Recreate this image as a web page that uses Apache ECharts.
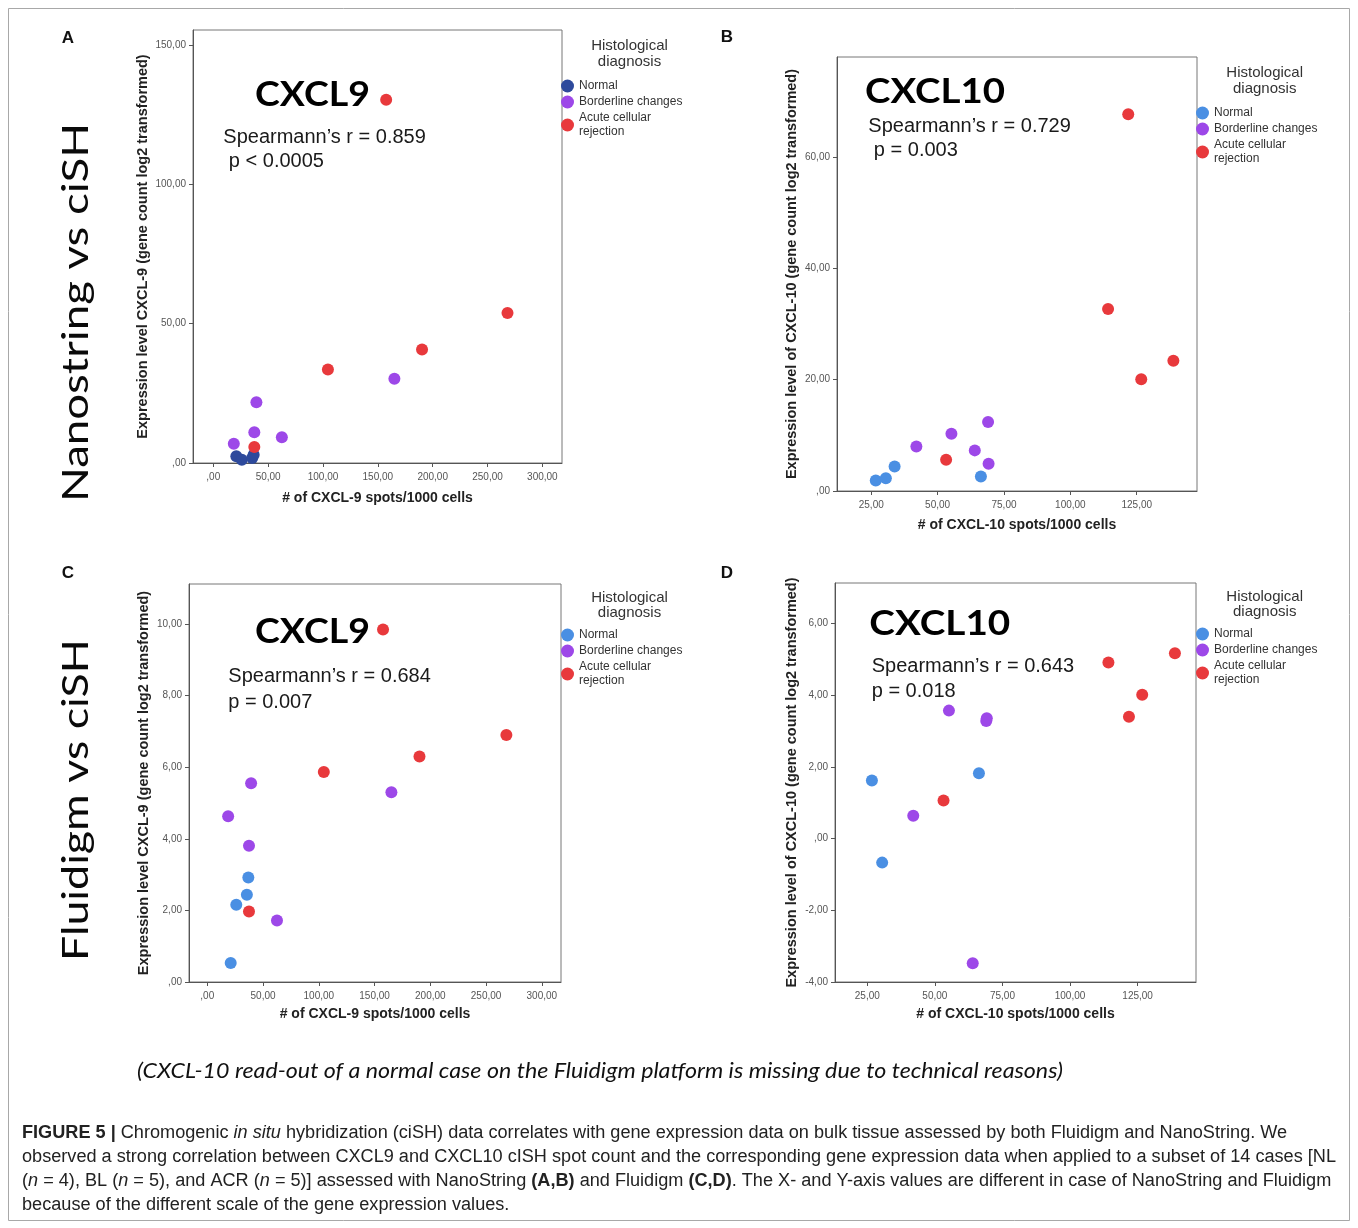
<!DOCTYPE html>
<html><head><meta charset="utf-8">
<script src="https://cdn.jsdelivr.net/npm/echarts@6/dist/echarts.min.js"></script>
<style>html,body{margin:0;padding:0;background:#fff}#c{width:1358px;height:1228px}</style>
</head><body><div id="c"></div>
<script>
// ===================== DATA =====================
const groups = ['Normal', 'Borderline changes', 'Acute cellular rejection'];

// ciSH CXCL-9 spots / 1000 cells (x of panels A and C)
const cxcl9SpotsNormal     = [21.0, 26.0, 35.5, 36.8];
const cxcl9SpotsBorderline = [165.1, 39.3, 37.4, 62.5, 18.7];
const cxcl9SpotsAcr        = [157.6, 268.2, 190.3, 104.5, 37.4];
// NanoString CXCL-9 expression (y of panel A)
const nanoCxcl9Normal      = [2.4, 1.2, 1.8, 3.0];
const nanoCxcl9Borderline  = [30.2, 21.8, 11.0, 9.2, 6.9];
const nanoCxcl9Acr         = [130.3, 53.8, 40.7, 33.5, 5.7];
// Fluidigm CXCL-9 expression (y of panel C)
const fluiCxcl9Normal      = [0.53, 2.16, 2.44, 2.92];
const fluiCxcl9Borderline  = [5.30, 5.55, 3.81, 1.72, 4.63];
const fluiCxcl9Acr         = [9.85, 6.90, 6.30, 5.87, 1.97];

// ciSH CXCL-10 spots / 1000 cells (x of panels B and D)
const cxcl10SpotsNormal     = [26.7, 30.5, 33.8, 66.3];
const cxcl10SpotsBorderline = [69.0, 55.2, 42.0, 64.0, 69.2];
const cxcl10SpotsAcr        = [121.8, 114.2, 138.8, 126.7, 53.2];
// NanoString CXCL-10 expression (y of panel B)
const nanoCxcl10Normal      = [1.9, 2.3, 4.4, 2.6];
const nanoCxcl10Borderline  = [12.4, 10.3, 8.0, 7.3, 4.9];
const nanoCxcl10Acr         = [67.7, 32.7, 23.4, 20.1, 5.6];
// Fluidigm CXCL-10 expression (y of panel D); one normal case missing
const fluiCxcl10Normal      = [1.62, -0.67, null, 1.82];
const fluiCxcl10Borderline  = [3.28, 3.57, 0.64, -3.48, 3.36];
const fluiCxcl10Acr         = [3.40, 4.91, 5.17, 4.01, 1.06];

// tick values and labels
const cxcl9SpotTicks   = [0, 50, 100, 150, 200, 250, 300];
const cxcl9SpotLabels  = [',00', '50,00', '100,00', '150,00', '200,00', '250,00', '300,00'];
const cxcl10SpotTicks  = [25, 50, 75, 100, 125];
const cxcl10SpotLabels = ['25,00', '50,00', '75,00', '100,00', '125,00'];
const nanoCxcl9Ticks   = [0, 50, 100, 150];
const nanoCxcl9Labels  = [',00', '50,00', '100,00', '150,00'];
const nanoCxcl10Ticks  = [0, 20, 40, 60];
const nanoCxcl10Labels = [',00', '20,00', '40,00', '60,00'];
const fluiCxcl9Ticks   = [0, 2, 4, 6, 8, 10];
const fluiCxcl9Labels  = [',00', '2,00', '4,00', '6,00', '8,00', '10,00'];
const fluiCxcl10Ticks  = [-4, -2, 0, 2, 4, 6];
const fluiCxcl10Labels = ['-4,00', '-2,00', ',00', '2,00', '4,00', '6,00'];

// statistics text
const statsA = ["Spearmann\u2019s r = 0.859", " p < 0.0005"];
const statsB = ["Spearmann\u2019s r = 0.729", " p = 0.003"];
const statsC = ["Spearmann\u2019s r = 0.684", "p = 0.007"];
const statsD = ["Spearmann\u2019s r = 0.643", "p = 0.018"];

// ===================== LAYOUT / STYLE =====================
const COL = { nd: '#2e4a9c', nl: '#4a8fe3', bl: '#9d48e8', acr: '#e8393c' };
const SANS = '"Liberation Sans", Arial, sans-serif';

function pairs(xs, ys) {
  const out = [];
  for (let i = 0; i < xs.length; i++) if (ys[i] !== null && ys[i] !== undefined) out.push([xs[i], ys[i]]);
  return out;
}
function lab(ticks, labels, v) {
  for (let i = 0; i < ticks.length; i++) if (Math.abs(ticks[i] - v) < 1e-6) return labels[i];
  return '';
}

const panels = [
  { key: 'A', grid: { left: 193, top: 30, width: 369, height: 433 }, x: [-18.5, 317.9], y: [0, 155.3],
    xT: cxcl9SpotTicks, xL: cxcl9SpotLabels, yT: nanoCxcl9Ticks, yL: nanoCxcl9Labels,
    xName: '# of CXCL-9 spots/1000 cells', yName: 'Expression level CXCL-9 (gene count log2 transformed)',
    xGap: 28, yGap: 43,
    ser: [[cxcl9SpotsNormal, nanoCxcl9Normal, COL.nd], [cxcl9SpotsBorderline, nanoCxcl9Borderline, COL.bl], [cxcl9SpotsAcr, nanoCxcl9Acr, COL.acr]],
    legend: { left: 561, top: 79 }, ltitle: { x: 629.5, y: 53.5, lh: 16 },
    title: { text: 'CXCL9', x: 255, y: 95.3, w: 115 }, stats: statsA, sx: 223.3, sy: [137.8, 161.5] },
  { key: 'B', grid: { left: 837, top: 57, width: 360, height: 434 }, x: [12.1, 147.7], y: [0, 78],
    xT: cxcl10SpotTicks, xL: cxcl10SpotLabels, yT: nanoCxcl10Ticks, yL: nanoCxcl10Labels,
    xName: '# of CXCL-10 spots/1000 cells', yName: 'Expression level of CXCL-10 (gene count log2 transformed)',
    xGap: 27.5, yGap: 38,
    ser: [[cxcl10SpotsNormal, nanoCxcl10Normal, COL.nl], [cxcl10SpotsBorderline, nanoCxcl10Borderline, COL.bl], [cxcl10SpotsAcr, nanoCxcl10Acr, COL.acr]],
    legend: { left: 1196, top: 106 }, ltitle: { x: 1264.7, y: 80.5, lh: 16 },
    title: { text: 'CXCL10', x: 865, y: 91.7, w: 140 }, stats: statsB, sx: 868.3, sy: [126, 150] },
  { key: 'C', grid: { left: 189, top: 584, width: 372, height: 398 }, x: [-16.4, 317.2], y: [0, 11.12],
    xT: cxcl9SpotTicks, xL: cxcl9SpotLabels, yT: fluiCxcl9Ticks, yL: fluiCxcl9Labels,
    xName: '# of CXCL-9 spots/1000 cells', yName: 'Expression level CXCL-9 (gene count log2 transformed)',
    xGap: 25.5, yGap: 38,
    ser: [[cxcl9SpotsNormal, fluiCxcl9Normal, COL.nl], [cxcl9SpotsBorderline, fluiCxcl9Borderline, COL.bl], [cxcl9SpotsAcr, fluiCxcl9Acr, COL.acr]],
    legend: { left: 561, top: 628 }, ltitle: { x: 629.5, y: 605.5, lh: 15 },
    title: { text: 'CXCL9', x: 255, y: 631.7, w: 115 }, stats: statsC, sx: 228.3, sy: [676, 702] },
  { key: 'D', grid: { left: 835, top: 583, width: 361, height: 399 }, x: [13.05, 146.6], y: [-4, 7.13],
    xT: cxcl10SpotTicks, xL: cxcl10SpotLabels, yT: fluiCxcl10Ticks, yL: fluiCxcl10Labels,
    xName: '# of CXCL-10 spots/1000 cells', yName: 'Expression level of CXCL-10 (gene count log2 transformed)',
    xGap: 25.5, yGap: 36,
    ser: [[cxcl10SpotsNormal, fluiCxcl10Normal, COL.nl], [cxcl10SpotsBorderline, fluiCxcl10Borderline, COL.bl], [cxcl10SpotsAcr, fluiCxcl10Acr, COL.acr]],
    legend: { left: 1196, top: 627 }, ltitle: { x: 1264.7, y: 604.5, lh: 15 },
    title: { text: 'CXCL10', x: 869.3, y: 624, w: 141 }, stats: statsD, sx: 871.7, sy: [666, 691] }
];

// text measurement for fitting
const mctx = document.createElement('canvas').getContext('2d');
function tw(text, font) { mctx.font = font; return mctx.measureText(text).width; }

const graphics = [];
graphics.push({ type: 'rect', silent: true, z: 0, shape: { x: 8.5, y: 8.5, width: 1341, height: 1212 },
  style: { fill: 'none', stroke: '#a8a8a8', lineWidth: 1 } });

// panel letters
[['A', 68, 38], ['B', 727, 37], ['C', 68, 573], ['D', 727, 573]].forEach(([t, x, y]) => {
  graphics.push({ type: 'text', silent: true, x, y, style: { text: t, font: 'bold 17px ' + SANS, fill: '#111', textAlign: 'center', textVerticalAlign: 'middle' } });
});

// side labels
[['Nanostring vs ciSH', 76, 312.5, 379], ['Fluidigm vs ciSH', 76, 800, 322]].forEach(([t, x, y, L]) => {
  const f = '36px Lato, "Open Sans", sans-serif';
  graphics.push({ type: 'text', silent: true, x, y, rotation: Math.PI / 2, scaleX: L / tw(t, f),
    style: { text: t, font: f, fill: '#0a0a0a', textAlign: 'center', textVerticalAlign: 'middle' } });
});

panels.forEach(p => {
  const tf = 'bold 34px Lato, "Open Sans", sans-serif';
  graphics.push({ type: 'text', silent: true, x: p.title.x, y: p.title.y, scaleX: p.title.w / tw(p.title.text, tf),
    style: { text: p.title.text, font: tf, fill: '#000', textAlign: 'left', textVerticalAlign: 'middle' } });
  p.stats.forEach((s, i) => {
    graphics.push({ type: 'text', silent: true, x: p.sx, y: p.sy[i],
      style: { text: s, font: '20px ' + SANS, fill: '#1a1a1a', textAlign: 'left', textVerticalAlign: 'middle' } });
  });
  graphics.push({ type: 'text', silent: true, x: p.ltitle.x, y: p.ltitle.y,
    style: { text: 'Histological\ndiagnosis', font: '15px ' + SANS, lineHeight: p.ltitle.lh, fill: '#333', textAlign: 'center', textVerticalAlign: 'middle' } });
});

// note
(function () {
  const t = '(CXCL-10 read-out of a normal case on the Fluidigm platform is missing due to technical reasons)';
  const f = 'italic 22px Lato, "Open Sans", sans-serif';
  graphics.push({ type: 'text', silent: true, x: 600, y: 1071, scaleX: 926 / tw(t, f),
    style: { text: t, font: f, fill: '#111', textAlign: 'center', textVerticalAlign: 'middle' } });
})();

// caption
(function () {
  const fs = 18;
  const fonts = {
    n: fs + 'px ' + SANS,
    i: 'italic ' + fs + 'px ' + SANS,
    b: 'bold ' + fs + 'px ' + SANS
  };
  const lines = [
    [['b', 'FIGURE 5 | '], ['n', 'Chromogenic '], ['i', 'in situ'], ['n', ' hybridization (ciSH) data correlates with gene expression data on bulk tissue assessed by both Fluidigm and NanoString. We']],
    [['n', 'observed a strong correlation between CXCL9 and CXCL10 cISH spot count and the corresponding gene expression data when applied to a subset of 14 cases [NL']],
    [['n', '('], ['i', 'n'], ['n', ' = 4), BL ('], ['i', 'n'], ['n', ' = 5), and ACR ('], ['i', 'n'], ['n', ' = 5)] assessed with NanoString '], ['b', '(A,B)'], ['n', ' and Fluidigm '], ['b', '(C,D)'], ['n', '. The X- and Y-axis values are different in case of NanoString and Fluidigm']],
    [['n', 'because of the different scale of the gene expression values.']]
  ];
  const lw = segs => segs.reduce((a, [k, t]) => a + tw(t, fonts[k]), 0);
  const sc = 1314 / lw(lines[1]);
  const ys = [1133, 1157, 1181, 1205];
  const rich = {
    n: { fontSize: fs, fontFamily: SANS, fill: '#222' },
    i: { fontSize: fs, fontFamily: SANS, fontStyle: 'italic', fill: '#222' },
    b: { fontSize: fs, fontFamily: SANS, fontWeight: 'bold', fill: '#222' }
  };
  lines.forEach((segs, li) => {
    const txt = segs.map(([k, t]) => '{' + k + '|' + t + '}').join('');
    graphics.push({ type: 'text', silent: true, x: 22, y: ys[li], scaleX: sc,
      style: { text: txt, rich, font: fonts.n, fill: '#222', textAlign: 'left', textVerticalAlign: 'middle' } });
  });
})();

// ===================== OPTION =====================
const axisText = { fontSize: 10, color: '#555', fontFamily: SANS };
const nameText = { fontWeight: 'bold', fontSize: 14.5, color: '#222', fontFamily: SANS };

const option = {
  animation: false,
  backgroundColor: '#fff',
  grid: panels.map(p => ({ left: p.grid.left, top: p.grid.top, width: p.grid.width, height: p.grid.height,
    show: true, borderColor: '#777', borderWidth: 1, backgroundColor: '#fff' })),
  xAxis: panels.map((p, i) => ({
    gridIndex: i, type: 'value', min: p.x[0], max: p.x[1],
    splitLine: { show: false },
    axisLine: { show: true, onZero: false, lineStyle: { color: '#555', width: 1 } },
    axisTick: { show: true, length: 4, customValues: p.xT, lineStyle: { color: '#555' } },
    axisLabel: { show: true, customValues: p.xT, formatter: v => lab(p.xT, p.xL, v), margin: 9, ...axisText },
    name: p.xName, nameLocation: 'middle', nameGap: p.xGap, nameTextStyle: { ...nameText, fontSize: 14 }
  })),
  yAxis: panels.map((p, i) => ({
    gridIndex: i, type: 'value', min: p.y[0], max: p.y[1],
    splitLine: { show: false },
    axisLine: { show: true, onZero: false, lineStyle: { color: '#555', width: 1 } },
    axisTick: { show: true, length: 4, customValues: p.yT, lineStyle: { color: '#555' } },
    axisLabel: { show: true, customValues: p.yT, formatter: v => lab(p.yT, p.yL, v), margin: 7, ...axisText },
    name: p.yName, nameLocation: 'middle', nameGap: p.yGap, nameTextStyle: nameText
  })),
  legend: panels.map(p => ({
    data: groups.map(g => p.key + '|' + g),
    orient: 'vertical', left: p.legend.left, top: p.legend.top, padding: 0,
    itemGap: 2, itemWidth: 13, itemHeight: 13, icon: 'circle', selectedMode: false,
    formatter: n => { const s = n.split('|')[1]; return s === 'Acute cellular rejection' ? 'Acute cellular\nrejection' : s; },
    textStyle: { fontSize: 12, color: '#333', lineHeight: 14, fontFamily: SANS }
  })),
  series: [],
  graphic: { elements: graphics }
};

panels.forEach((p, i) => {
  p.ser.forEach(([xs, ys, color], g) => {
    option.series.push({
      type: 'scatter', name: p.key + '|' + groups[g], xAxisIndex: i, yAxisIndex: i,
      data: pairs(xs, ys), symbol: 'circle', symbolSize: 12,
      itemStyle: { color, opacity: 1 }, emphasis: { disabled: true }, z: 3 + g
    });
  });
});

const chart = echarts.init(document.getElementById('c'), null, { renderer: 'canvas', width: 1358, height: 1228 });
chart.setOption(option);
</script>
</body></html>
